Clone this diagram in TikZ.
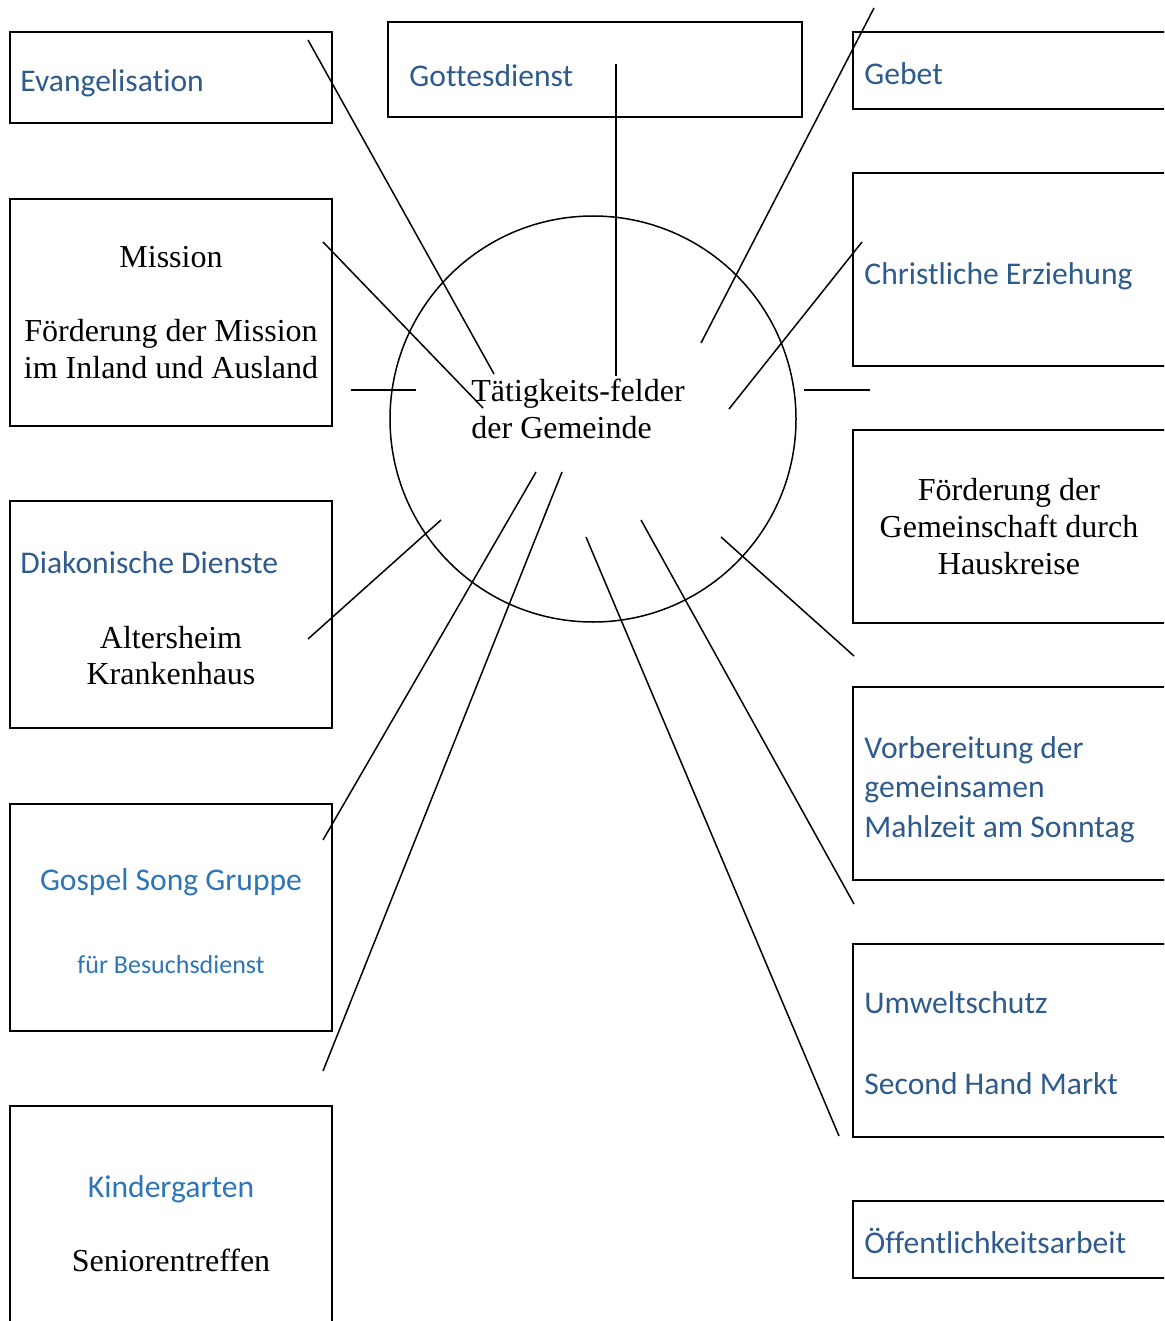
\documentclass[tikz,border=0pt]{standalone}
\usepackage{fontspec}
\setmainfont{Liberation Serif}
\newfontfamily\calfont[Ligatures=NoCommon]{Carlito}
\definecolor{dblue}{HTML}{2F5B8C}
\definecolor{lblue}{HTML}{2E75B6}
\tikzset{
  box/.style={draw, line width=1.05pt, inner sep=0pt, outer sep=0pt, anchor=north west},
  ln/.style={line width=0.75pt},
  ctxt/.style={font=\calfont\fontsize{15.8}{19.5}\selectfont, text=dblue, inner sep=0pt, anchor=base west},
  lctxt/.style={font=\calfont\fontsize{15.8}{19.5}\selectfont, text=lblue, inner sep=0pt, anchor=base},
  stxt/.style={font=\calfont\fontsize{13}{16}\selectfont, text=lblue, inner sep=0pt, anchor=base},
  ttxt/.style={font=\fontsize{16}{18.5}\selectfont, inner sep=0pt, anchor=base},
  ttxtw/.style={font=\fontsize{16}{18.5}\selectfont, inner sep=0pt, anchor=base west},
}
\newcommand\boxat[5]{\node[box, minimum width={(#4-#2)*0.5pt}, minimum height={(#5-#3)*0.5pt}] (#1) at (#2,#3) {};}
\begin{document}
\begin{tikzpicture}[x=0.5pt, y=-0.5pt]
\path[use as bounding box, clip] (0,0) rectangle (1164,1321);
% boxes left
\boxat{evang}{10}{32}{332}{123}
\boxat{mission}{10}{199}{332}{426}
\boxat{diak}{10}{501}{332}{728}
\boxat{gospel}{10}{804}{332}{1031}
\boxat{kinder}{10}{1106}{332}{1335}
% top middle
\boxat{gottes}{388}{22}{802}{117}
% boxes right
\boxat{gebet}{853}{32}{1180}{109}
\boxat{erz}{853}{173}{1180}{366}
\boxat{haus}{853}{430}{1180}{623}
\boxat{mahl}{853}{687}{1180}{880}
\boxat{umwelt}{853}{944}{1180}{1137}
\boxat{oeff}{853}{1201}{1180}{1278}
% circle
\node[draw, circle, line width=0.75pt, minimum size=203pt, inner sep=0pt] (c) at (593,419) {};
% texts
\node[ctxt] (tevang) at (20,92) {Evangelisation};
\node[ctxt] (tgottes) at (409,87) {Gottesdienst};
\node[ctxt] (tgebet) at (864,85) {Gebet};
\node[ctxt] (terz) at (864,284) {Christliche Erziehung};
\node[ttxt] (tmis1) at (171,267) {Mission};
\node[ttxt] (tmis2) at (171,341) {Förderung der Mission};
\node[ttxt] (tmis3) at (171,378) {im Inland und Ausland};
\node[ttxt] (thaus1) at (1009,500) {Förderung der};
\node[ttxt] (thaus2) at (1009,537) {Gemeinschaft durch};
\node[ttxt] (thaus3) at (1009,574) {Hauskreise};
\node[ctxt] (tdiak) at (20,573) {Diakonische Dienste};
\node[ttxt] (talt) at (171,648) {Altersheim};
\node[ttxt] (tkrank) at (171,684) {Krankenhaus};
\node[ctxt] (tmahl1) at (864,758) {Vorbereitung der};
\node[ctxt] (tmahl2) at (864,797) {gemeinsamen};
\node[ctxt] (tmahl3) at (864,837) {Mahlzeit am Sonntag};
\node[lctxt] (tgospel) at (171,890) {Gospel Song Gruppe};
\node[stxt] (tbesuch) at (171,973) {für Besuchsdienst};
\node[ctxt] (tumwelt) at (864,1013) {Umweltschutz};
\node[ctxt] (tsecond) at (864,1094) {Second Hand Markt};
\node[lctxt] (tkinder) at (171,1197) {Kindergarten};
\node[ttxt] (tsenior) at (171,1271) {Seniorentreffen};
\node[ctxt] (toeff) at (864,1253) {Öffentlichkeitsarbeit};
\node[ttxtw] (title1) at (471,401) {Tätigkeits-felder};
\node[ttxtw] (title2) at (471,438) {der Gemeinde};
% connector end points
\coordinate (a1) at (308,40);   \coordinate (b1) at (494,374);
\coordinate (a2) at (616,64);   \coordinate (b2) at (616,376);
\coordinate (a3) at (874,8);    \coordinate (b3) at (701,343);
\coordinate (a4) at (323,242);  \coordinate (b4) at (483,408);
\coordinate (a5) at (862,242);  \coordinate (b5) at (729,409);
\coordinate (a6) at (351,390);  \coordinate (b6) at (416,390);
\coordinate (a7) at (804,390);  \coordinate (b7) at (870,390);
\coordinate (a8) at (441,520);  \coordinate (b8) at (308,639);
\coordinate (a9) at (536,472);  \coordinate (b9) at (323,840);
\coordinate (a10) at (562,472); \coordinate (b10) at (323,1071);
\coordinate (a11) at (586,537); \coordinate (b11) at (839,1136);
\coordinate (a12) at (641,520); \coordinate (b12) at (854,904);
\coordinate (a13) at (721,537); \coordinate (b13) at (854,656);
\foreach \i in {1,...,13} {\draw[ln] (a\i) -- (b\i);}
\end{tikzpicture}
\end{document}
